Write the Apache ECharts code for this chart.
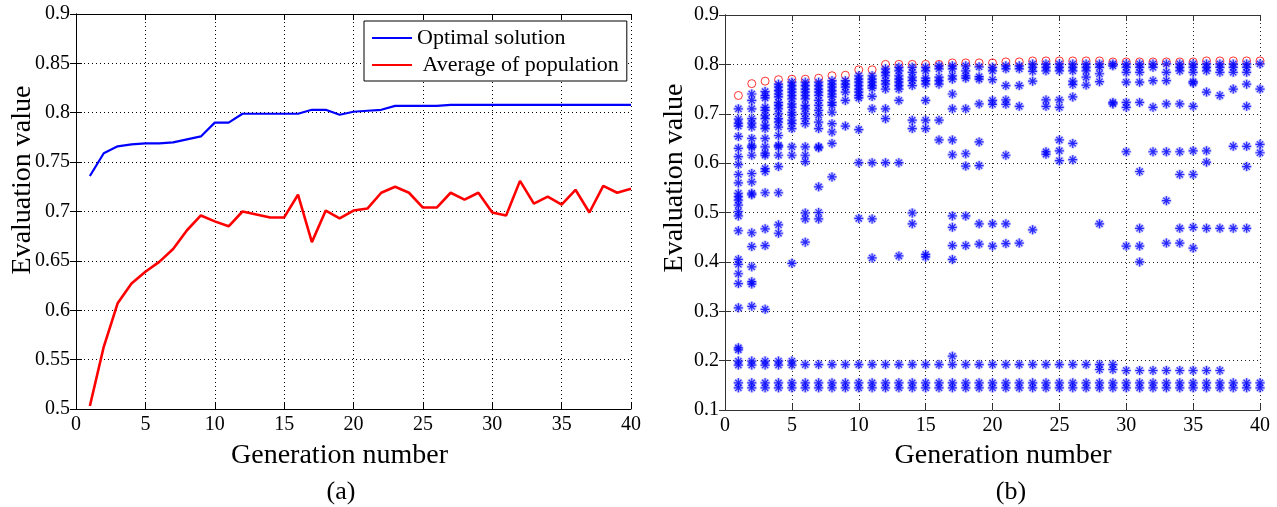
<!DOCTYPE html>
<html>
<head>
<meta charset="utf-8">
<script src="https://cdn.jsdelivr.net/npm/echarts@6/dist/echarts.min.js"></script>
<style>
html,body{margin:0;padding:0;background:#fff;}
#c{width:1277px;height:507px;}
</style>
</head>
<body>
<div id="c"></div>
<script>
// ---------- DATA ----------
const generations = [1,2,3,4,5,6,7,8,9,10,11,12,13,14,15,16,17,18,19,20,21,22,23,24,25,26,27,28,29,30,31,32,33,34,35,36,37,38,39,40];
const optimalSolution = [0.736,0.759,0.766,0.768,0.769,0.769,0.770,0.773,0.776,0.790,0.790,0.799,0.799,0.799,0.799,0.799,0.803,0.803,0.798,0.801,0.802,0.803,0.807,0.807,0.807,0.807,0.808,0.808,0.808,0.808,0.808,0.808,0.808,0.808,0.808,0.808,0.808,0.808,0.808,0.808];
const populationAverage = [0.503,0.563,0.607,0.627,0.639,0.649,0.662,0.681,0.696,0.690,0.685,0.700,0.697,0.694,0.694,0.717,0.669,0.701,0.693,0.701,0.703,0.719,0.725,0.719,0.704,0.704,0.719,0.712,0.719,0.699,0.696,0.731,0.708,0.715,0.707,0.722,0.699,0.726,0.719,0.723];
const bestPerGeneration = [0.737,0.761,0.766,0.769,0.770,0.770,0.772,0.777,0.778,0.789,0.789,0.800,0.800,0.800,0.800,0.800,0.803,0.803,0.803,0.803,0.805,0.805,0.807,0.807,0.807,0.807,0.807,0.807,0.805,0.805,0.805,0.805,0.805,0.805,0.805,0.807,0.807,0.807,0.807,0.807];
const populationValues = [
  [0.710,0.689,0.681,0.675,0.654,0.630,0.613,0.597,0.577,0.560,0.539,0.532,0.525,0.515,0.502,0.493,0.463,0.405,0.395,0.376,0.356,0.307,0.226,0.222,0.199,0.191,0.155,0.145],
  [0.740,0.727,0.710,0.690,0.681,0.673,0.650,0.635,0.632,0.616,0.579,0.562,0.539,0.536,0.459,0.431,0.390,0.360,0.355,0.310,0.199,0.191,0.155,0.145],
  [0.745,0.737,0.732,0.713,0.707,0.697,0.690,0.677,0.670,0.650,0.633,0.620,0.616,0.589,0.583,0.540,0.467,0.433,0.304,0.199,0.191,0.155,0.145],
  [0.760,0.754,0.747,0.740,0.734,0.723,0.717,0.710,0.700,0.690,0.683,0.673,0.656,0.636,0.633,0.616,0.593,0.540,0.475,0.458,0.199,0.191,0.155,0.145],
  [0.764,0.757,0.750,0.744,0.737,0.730,0.720,0.713,0.703,0.697,0.687,0.680,0.670,0.633,0.616,0.397,0.199,0.191,0.155,0.145],
  [0.764,0.757,0.750,0.744,0.737,0.730,0.717,0.710,0.700,0.690,0.680,0.633,0.616,0.603,0.499,0.487,0.440,0.192,0.155,0.145],
  [0.764,0.757,0.750,0.744,0.737,0.727,0.717,0.707,0.697,0.683,0.670,0.633,0.631,0.552,0.500,0.487,0.192,0.155,0.145],
  [0.767,0.760,0.754,0.747,0.740,0.734,0.723,0.717,0.703,0.680,0.663,0.640,0.572,0.192,0.155,0.145],
  [0.767,0.760,0.754,0.744,0.727,0.675,0.192,0.155,0.145],
  [0.777,0.770,0.764,0.757,0.750,0.744,0.737,0.732,0.668,0.601,0.488,0.192,0.155,0.145],
  [0.777,0.770,0.764,0.757,0.752,0.735,0.710,0.601,0.487,0.408,0.192,0.155,0.145],
  [0.791,0.784,0.777,0.767,0.760,0.750,0.710,0.690,0.601,0.192,0.155,0.145],
  [0.794,0.787,0.777,0.770,0.764,0.757,0.750,0.727,0.601,0.412,0.192,0.155,0.145],
  [0.794,0.784,0.774,0.767,0.757,0.687,0.670,0.499,0.477,0.192,0.155,0.145],
  [0.794,0.787,0.772,0.767,0.760,0.727,0.687,0.670,0.415,0.410,0.192,0.155,0.145],
  [0.797,0.791,0.774,0.767,0.760,0.687,0.647,0.192,0.155,0.145],
  [0.797,0.791,0.777,0.770,0.740,0.710,0.647,0.617,0.493,0.470,0.433,0.405,0.209,0.192,0.155,0.145],
  [0.797,0.787,0.777,0.772,0.710,0.619,0.594,0.493,0.433,0.192,0.155,0.145],
  [0.795,0.775,0.770,0.720,0.643,0.595,0.477,0.436,0.192,0.155,0.145],
  [0.794,0.787,0.769,0.727,0.719,0.477,0.432,0.192,0.155,0.145],
  [0.797,0.791,0.757,0.728,0.719,0.616,0.477,0.437,0.192,0.155,0.145],
  [0.797,0.791,0.757,0.715,0.438,0.192,0.155,0.145],
  [0.801,0.794,0.786,0.766,0.465,0.192,0.155,0.145],
  [0.801,0.794,0.787,0.728,0.715,0.623,0.618,0.192,0.155,0.145],
  [0.801,0.794,0.787,0.728,0.713,0.647,0.625,0.605,0.192,0.155,0.145],
  [0.801,0.794,0.787,0.766,0.759,0.734,0.640,0.607,0.192,0.155,0.145],
  [0.801,0.794,0.787,0.774,0.758,0.192,0.155,0.145],
  [0.801,0.794,0.781,0.765,0.477,0.192,0.182,0.155,0.145],
  [0.801,0.797,0.723,0.720,0.192,0.182,0.155,0.145],
  [0.801,0.794,0.784,0.764,0.723,0.713,0.623,0.432,0.180,0.155,0.145],
  [0.801,0.794,0.784,0.764,0.723,0.583,0.468,0.432,0.400,0.180,0.155,0.145],
  [0.801,0.794,0.767,0.713,0.623,0.180,0.155,0.145],
  [0.801,0.784,0.767,0.720,0.623,0.524,0.438,0.180,0.155,0.145],
  [0.801,0.794,0.787,0.720,0.623,0.577,0.468,0.438,0.180,0.155,0.145],
  [0.801,0.794,0.784,0.765,0.762,0.715,0.625,0.577,0.470,0.428,0.180,0.155,0.145],
  [0.801,0.794,0.787,0.744,0.625,0.602,0.468,0.180,0.155,0.145],
  [0.801,0.794,0.784,0.737,0.468,0.180,0.155,0.145],
  [0.801,0.794,0.784,0.750,0.634,0.468,0.155,0.145],
  [0.801,0.794,0.784,0.760,0.715,0.634,0.593,0.468,0.155,0.145],
  [0.801,0.750,0.638,0.621,0.155,0.145]
];
const xTicksMax = 40;
const leftYRange = [0.5, 0.9];
const rightYRange = [0.1, 0.9];
const seriesNames = ['Optimal solution', 'Average of population'];
const axisTitles = { x: 'Generation number', y: 'Evaluation value' };
const panelLabels = ['(a)', '(b)'];

// ---------- BUILD ----------
const FONT = 'Liberation Serif';
const scatterPoints = [];
populationValues.forEach((vals, i) => vals.forEach(v => scatterPoints.push([generations[i], v])));
const bestPoints = bestPerGeneration.map((v, i) => [generations[i], v]);
const optPoints = optimalSolution.map((v, i) => [generations[i], v]);
const avgPoints = populationAverage.map((v, i) => [generations[i], v]);

const ASTER = 'path://M5,0L5,10M0,5L10,5M1.6,1.6L8.4,8.4M8.4,1.6L1.6,8.4';

function xAxes(gi, color) {
  const base = {
    gridIndex: gi, type: 'value', min: 0, max: xTicksMax, interval: 5,
    axisLine: { show: true, lineStyle: { color: color, width: 1 } },
    axisTick: { show: true, inside: true, length: 6, lineStyle: { color: color } },
  };
  return [
    Object.assign({}, base, {
      position: 'bottom',
      axisLabel: { show: true, color: '#000', fontFamily: FONT, fontSize: 20, margin: 6 },
      splitLine: { show: true, lineStyle: { type: [1, 3], color: gi === 0 ? '#000' : '#222', width: 1 } }
    }),
    Object.assign({}, base, {
      position: 'top',
      axisLabel: { show: false },
      splitLine: { show: false }
    })
  ];
}
function yAxes(gi, range, interval, color) {
  const base = {
    gridIndex: gi, type: 'value', min: range[0], max: range[1], interval: interval,
    axisLine: { show: true, lineStyle: { color: color, width: 1 } },
    axisTick: { show: true, inside: true, length: 6, lineStyle: { color: color } },
  };
  return [
    Object.assign({}, base, {
      position: 'left',
      axisLabel: { show: true, color: '#000', fontFamily: FONT, fontSize: 20, margin: 6,
        formatter: v => String(+v.toFixed(2)) },
      splitLine: { show: true, lineStyle: { type: [1, 3], color: gi === 0 ? '#000' : '#222', width: 1 } }
    }),
    Object.assign({}, base, {
      position: 'right',
      axisLabel: { show: false },
      splitLine: { show: false }
    })
  ];
}

const chart = echarts.init(document.getElementById('c'), null, { renderer: 'canvas' });
const option = {
  animation: false,
  backgroundColor: '#fff',
  textStyle: { fontFamily: FONT },
  grid: [
    { left: 76, top: 14, width: 555, height: 395 },
    { left: 725, top: 15, width: 535, height: 395 }
  ],
  xAxis: xAxes(0, '#000').concat(xAxes(1, '#333')),
  yAxis: yAxes(0, leftYRange, 0.05, '#000').concat(yAxes(1, rightYRange, 0.1, '#333')),
  legend: {
    data: seriesNames.map(n => ({ name: n, icon: 'rect' })),
    orient: 'vertical',
    left: 364, top: 21,
    padding: [6, 8, 5, 8],
    itemGap: 5,
    itemWidth: 40, itemHeight: 2,
    backgroundColor: '#fff',
    borderColor: '#000', borderWidth: 1,
    formatter: n => (n === seriesNames[1] ? ' ' + n : n),
    textStyle: { fontFamily: FONT, fontSize: 22, color: '#000' }
  },
  graphic: [
    { type: 'text', x: 339.5, y: 456, style: { text: axisTitles.x, font: '28px ' + FONT, fill: '#000', align: 'center', verticalAlign: 'middle' } },
    { type: 'text', x: 341, y: 492, style: { text: panelLabels[0], font: '26px ' + FONT, fill: '#000', align: 'center', verticalAlign: 'middle' } },
    { type: 'text', x: 1003, y: 456, style: { text: axisTitles.x, font: '28px ' + FONT, fill: '#000', align: 'center', verticalAlign: 'middle' } },
    { type: 'text', x: 1011, y: 492, style: { text: panelLabels[1], font: '26px ' + FONT, fill: '#000', align: 'center', verticalAlign: 'middle' } },
    { type: 'text', x: 23, y: 180, rotation: Math.PI / 2, style: { text: axisTitles.y, font: '28px ' + FONT, fill: '#000', align: 'center', verticalAlign: 'middle' } },
    { type: 'text', x: 675, y: 178, rotation: Math.PI / 2, style: { text: axisTitles.y, font: '28px ' + FONT, fill: '#000', align: 'center', verticalAlign: 'middle' } }
  ],
  series: [
    { name: seriesNames[0], type: 'line', xAxisIndex: 0, yAxisIndex: 0, data: optPoints,
      symbol: 'none', lineStyle: { color: '#0000ff', width: 2.2 }, itemStyle: { color: '#0000ff' } },
    { name: seriesNames[1], type: 'line', xAxisIndex: 0, yAxisIndex: 0, data: avgPoints,
      symbol: 'none', lineStyle: { color: '#ff0000', width: 2.6 }, itemStyle: { color: '#ff0000' } },
    { name: 'best', type: 'scatter', xAxisIndex: 2, yAxisIndex: 2, data: bestPoints,
      symbol: 'circle', symbolSize: 8,
      itemStyle: { color: 'rgba(0,0,0,0)', borderColor: '#ff0000', borderWidth: 1 } },
    { name: 'halo', type: 'scatter', xAxisIndex: 2, yAxisIndex: 2, data: scatterPoints,
      symbol: ASTER, symbolSize: 10, silent: true,
      itemStyle: { color: 'rgba(0,0,0,0)', borderColor: 'rgba(100,100,255,0.45)', borderWidth: 3 } },
    { name: 'population', type: 'scatter', xAxisIndex: 2, yAxisIndex: 2, data: scatterPoints,
      symbol: ASTER, symbolSize: 9,
      itemStyle: { color: 'rgba(0,0,0,0)', borderColor: '#0000ff', borderWidth: 1.2 } }
  ]
};
chart.setOption(option);
</script>
</body>
</html>
